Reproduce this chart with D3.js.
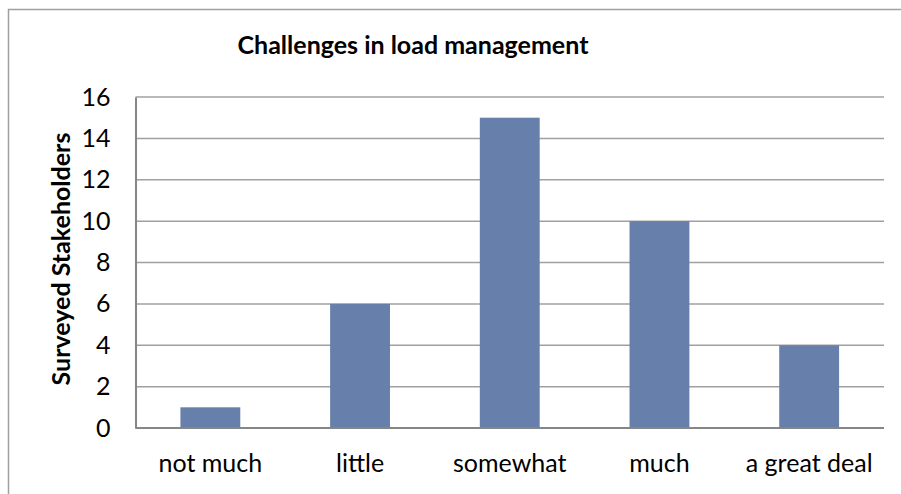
<!DOCTYPE html>
<html>
<head>
<meta charset="utf-8">
<script src="https://cdn.jsdelivr.net/npm/d3@7"></script>
<style>
  body { margin: 0; background: #fff; }
  text { font-family: Lato, "Open Sans", sans-serif; fill: #000; }
</style>
</head>
<body>
<div id="chart"></div>
<script>
// chart data
var categories = ["not much", "little", "somewhat", "much", "a great deal"];
var stakeholders = [1, 6, 15, 10, 4];
var yTicks = [0, 2, 4, 6, 8, 10, 12, 14, 16];

var W = 901, H = 494;
var margin = { top: 97, right: 17, bottom: 66, left: 135.5 },
  width = W - margin.left - margin.right,
  height = H - margin.top - margin.bottom;

var svg = d3.select("#chart").append("svg")
  .attr("width", W)
  .attr("height", H);

// outer frame (cut off on right and bottom like the original)
svg.append("rect")
  .attr("x", 8.5).attr("y", 9.5)
  .attr("width", W + 20).attr("height", H + 20)
  .attr("fill", "none")
  .attr("stroke", "#a0a0a0")
  .attr("stroke-width", 1.5);

var g = svg.append("g")
  .attr("transform", "translate(" + margin.left + "," + margin.top + ")");

var x = d3.scaleBand()
  .domain(categories)
  .range([0, width])
  .paddingInner(0.6)
  .paddingOuter(0.3);

var y = d3.scaleLinear()
  .domain([0, 16])
  .range([height, 0]);

// gridlines
g.selectAll(".grid")
  .data(yTicks.filter(function (d) { return d > 0; }))
  .enter().append("line")
    .attr("x1", 0).attr("x2", width)
    .attr("y1", function (d) { return y(d); })
    .attr("y2", function (d) { return y(d); })
    .attr("stroke", "#a0a0a0")
    .attr("stroke-width", 1.5);

// bars
g.selectAll(".bar")
  .data(stakeholders)
  .enter().append("rect")
    .attr("class", "bar")
    .attr("x", function (d, i) { return x(categories[i]); })
    .attr("width", x.bandwidth())
    .attr("y", function (d) { return y(d); })
    .attr("height", function (d) { return height - y(d); })
    .attr("fill", "#6780ab");

// y axis
var yAxis = g.append("g")
  .call(d3.axisLeft(y).tickValues(yTicks).tickSize(0).tickPadding(25));
yAxis.select(".domain").attr("stroke", "#868686").attr("stroke-width", 2);
yAxis.selectAll("text")
  .style("font-size", "25px")
  .style("font-family", "Lato, sans-serif");

// x axis
var xAxis = g.append("g")
  .attr("transform", "translate(0," + height + ")")
  .call(d3.axisBottom(x).tickSize(0).tickPadding(26));
xAxis.select(".domain").attr("stroke", "#868686").attr("stroke-width", 2)
  .attr("d", "M0,0H" + width);
xAxis.selectAll("text")
  .style("font-size", "25px")
  .style("font-family", "Lato, sans-serif");

// title
svg.append("text")
  .attr("x", 413)
  .attr("y", 54)
  .attr("text-anchor", "middle")
  .style("font-size", "25px")
  .style("font-weight", "bold")
  .text("Challenges in load management");

// y axis label
svg.append("text")
  .attr("transform", "translate(70,259) rotate(-90)")
  .attr("text-anchor", "middle")
  .style("font-size", "25px")
  .style("font-weight", "bold")
  .text("Surveyed Stakeholders");
</script>
</body>
</html>
